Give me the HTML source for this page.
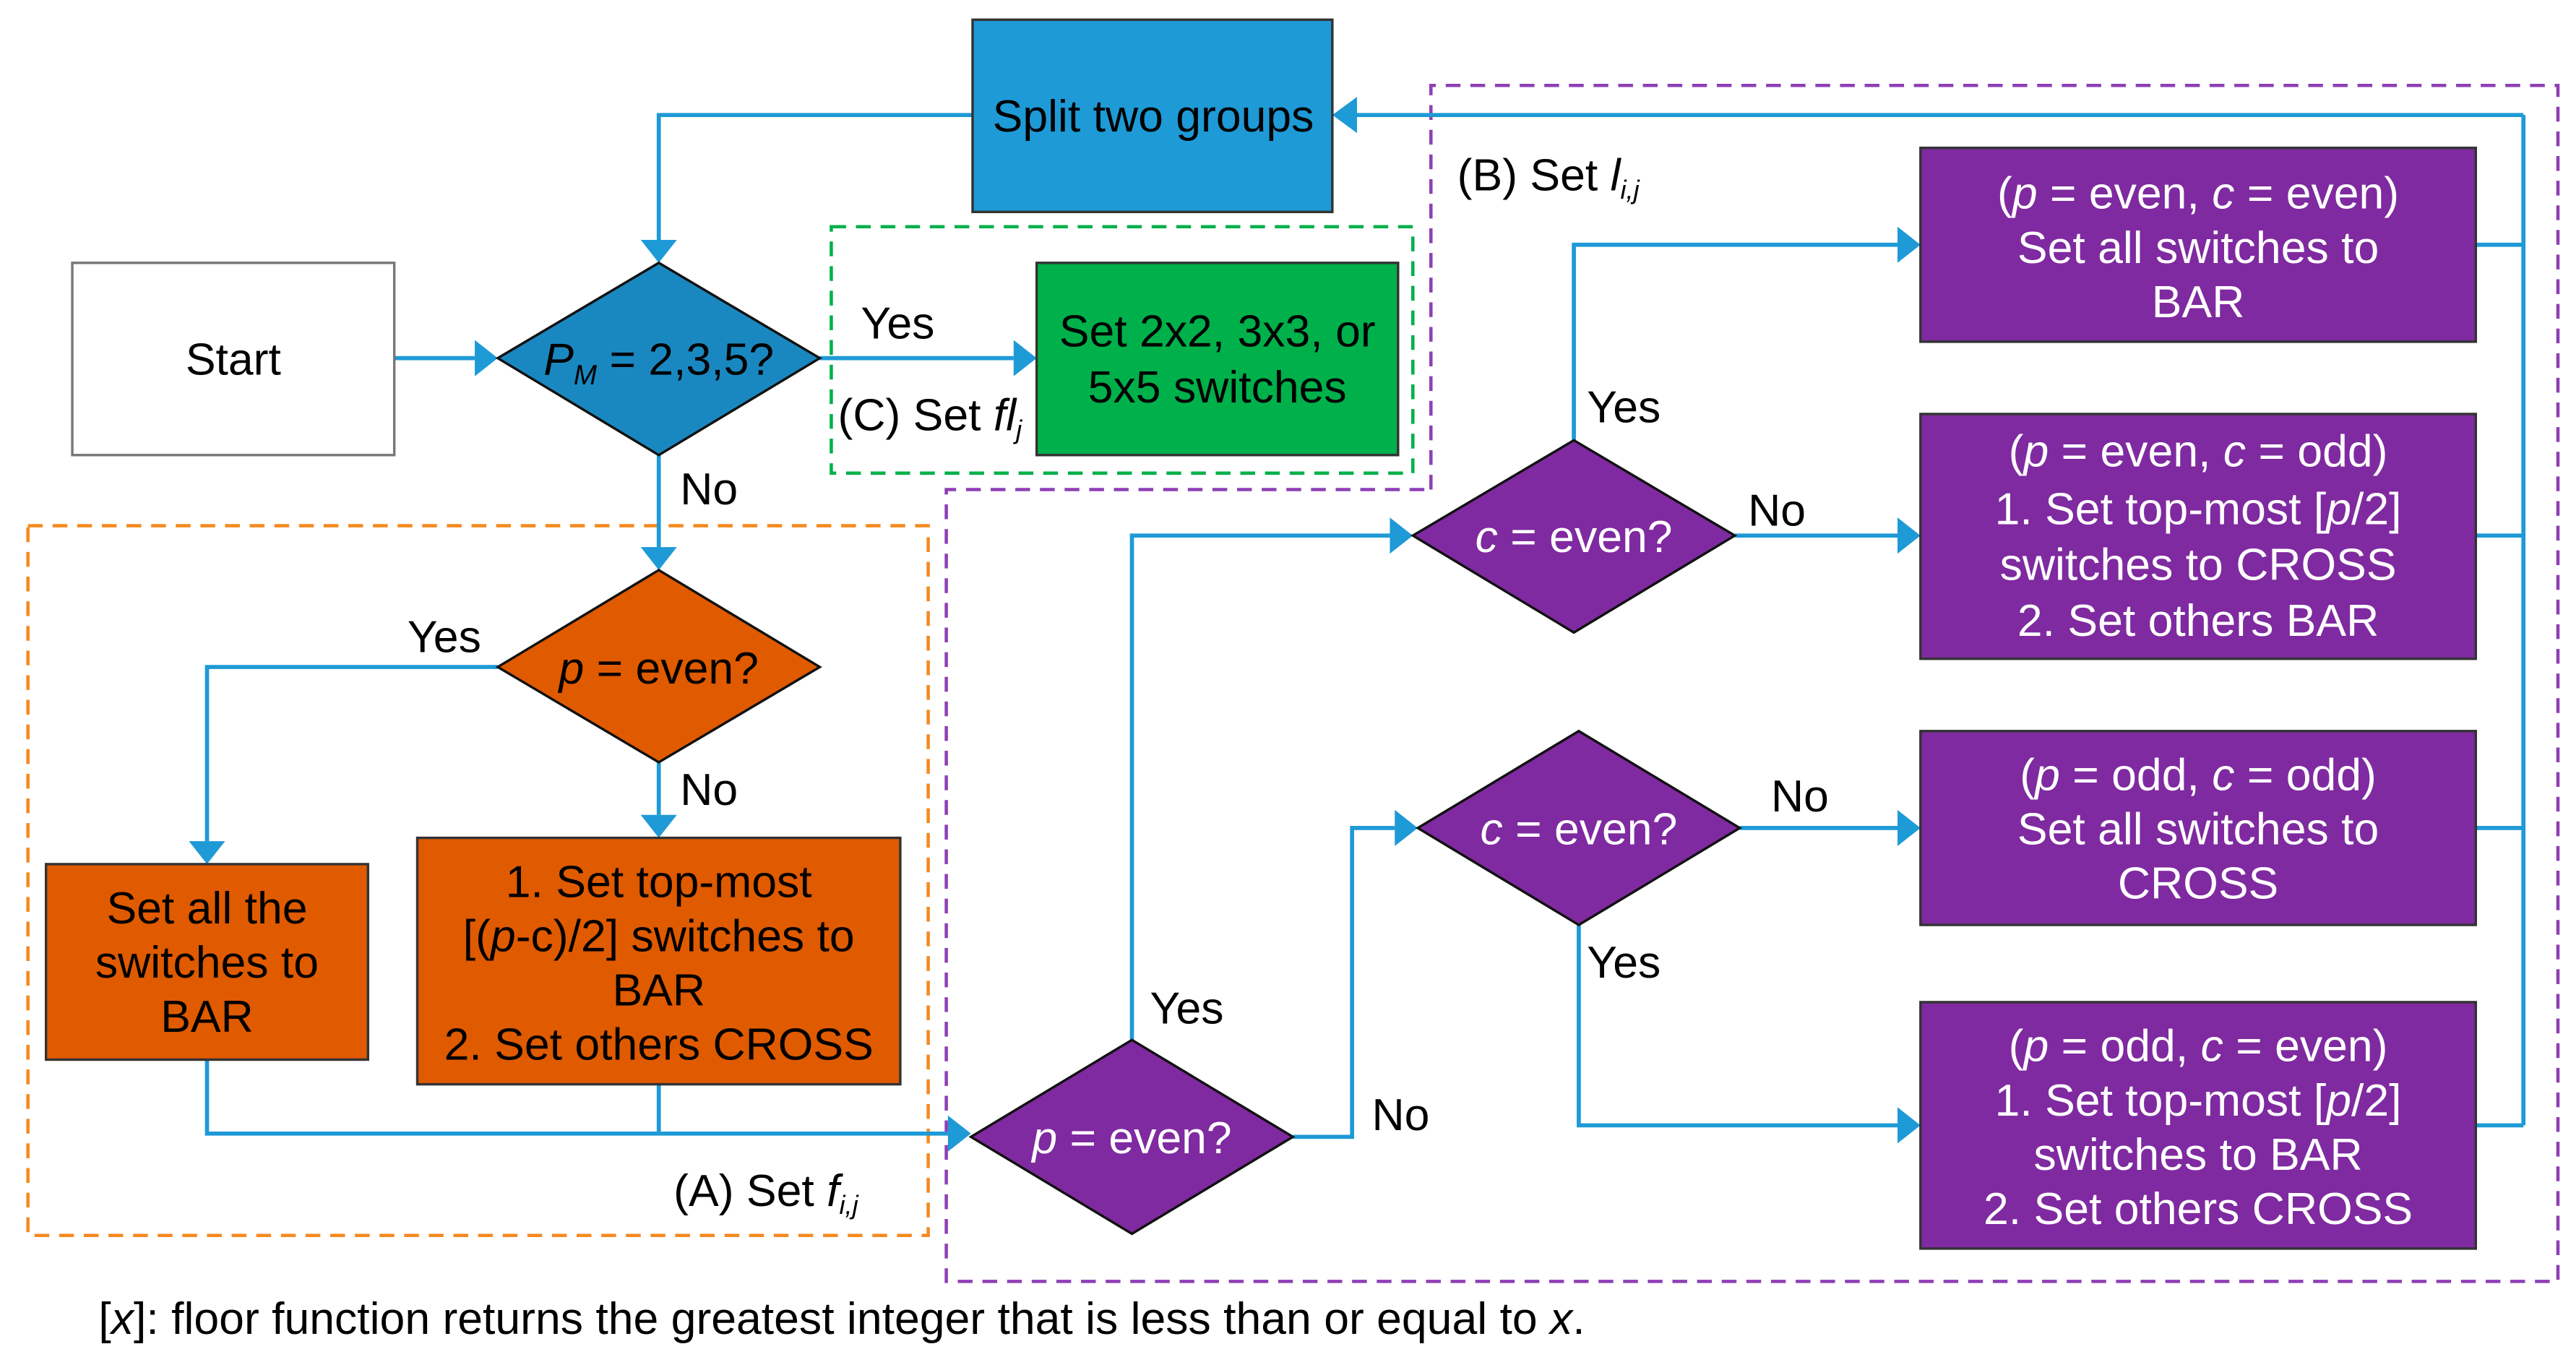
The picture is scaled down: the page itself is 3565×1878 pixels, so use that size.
<!DOCTYPE html>
<html><head><meta charset="utf-8"><style>html,body{margin:0;padding:0;background:#fff}svg{display:block}text{font-family:"Liberation Sans",sans-serif;font-size:27.5px}</style></head>
<body>
<svg width="3565" height="1878" viewBox="0 0 1568 826" xmlns="http://www.w3.org/2000/svg">
<g fill="none" stroke-width="2" stroke-dasharray="9,6">
<rect x="506" y="138" width="354" height="150" stroke="#00b04a"/>
<rect x="17" y="320" width="548" height="432" stroke="#f5891f"/>
<path d="M871,298 L871,52 L1557,52 L1557,780 L576,780 L576,298 Z" stroke="#8e3fb5"/>
</g>
<g fill="none" stroke="#1e9ad6" stroke-width="2.5">
<path d="M592,70 L401,70 L401,146"/>
<path d="M1536,70 L826,70"/>
<path d="M1536,70 L1536,685"/>
<path d="M1507,149 L1536,149 M1507,326 L1536,326 M1507,504 L1536,504 M1507,685 L1536,685"/>
<path d="M240,218 L289,218"/>
<path d="M499,218 L617,218"/>
<path d="M401,277 L401,333"/>
<path d="M303,406 L126,406 L126,512"/>
<path d="M401,464 L401,496"/>
<path d="M126,645 L126,690 L577,690 M401,660 L401,690"/>
<path d="M689,633 L689,326 L846,326"/>
<path d="M787,692 L823,692 L823,504 L849,504"/>
<path d="M958,268 L958,149 L1155,149"/>
<path d="M1056,326 L1155,326"/>
<path d="M1059,504 L1155,504"/>
<path d="M961,563 L961,685 L1155,685"/>
</g>
<g fill="#1e9ad6">
<path d="M390,146 L412,146 L401,160 Z"/>
<path d="M826,59 L826,81 L811,70 Z"/>
<path d="M289,207 L289,229 L303,218 Z"/>
<path d="M617,207 L617,229 L631,218 Z"/>
<path d="M390,333 L412,333 L401,347 Z"/>
<path d="M115,512 L137,512 L126,526 Z"/>
<path d="M390,496 L412,496 L401,510 Z"/>
<path d="M577,679 L577,701 L591,690 Z"/>
<path d="M846,315 L846,337 L860,326 Z"/>
<path d="M849,493 L849,515 L863,504 Z"/>
<path d="M1155,138 L1155,160 L1169,149 Z"/>
<path d="M1155,315 L1155,337 L1169,326 Z"/>
<path d="M1155,493 L1155,515 L1169,504 Z"/>
<path d="M1155,674 L1155,696 L1169,685 Z"/>
</g>
<g stroke="#333" stroke-width="1.5">
<rect x="592" y="12" width="219" height="117" fill="#1e9ad6"/>
<rect x="44" y="160" width="196" height="117" fill="#fff" stroke="#777"/>
<path d="M303,218 L401,160 L499,218 L401,277 Z" fill="#1a88c0" stroke="#111"/>
<rect x="631" y="160" width="220" height="117" fill="#00b04a"/>
<path d="M303,406 L401,347 L499,406 L401,464 Z" fill="#e05a00" stroke="#111"/>
<rect x="28" y="526" width="196" height="119" fill="#e05a00"/>
<rect x="254" y="510" width="294" height="150" fill="#e05a00"/>
<path d="M860,326 L958,268 L1056,326 L958,385 Z" fill="#7f2aa0" stroke="#111"/>
<path d="M863,504 L961,445 L1059,504 L961,563 Z" fill="#7f2aa0" stroke="#111"/>
<path d="M591,692 L689,633 L787,692 L689,751 Z" fill="#7f2aa0" stroke="#111"/>
<rect x="1169" y="90" width="338" height="118" fill="#7f2aa0"/>
<rect x="1169" y="252" width="338" height="149" fill="#7f2aa0"/>
<rect x="1169" y="445" width="338" height="118" fill="#7f2aa0"/>
<rect x="1169" y="610" width="338" height="150" fill="#7f2aa0"/>
</g>
<g text-anchor="middle" fill="#000">
<text x="702" y="80">Split two groups</text>
<text x="142" y="228">Start</text>
<text x="401" y="228"><tspan font-style="italic">P</tspan><tspan font-style="italic" font-size="17" dy="6">M</tspan><tspan dy="-6"> = 2,3,5?</tspan></text>
<text x="741" y="211">Set 2x2, 3x3, or</text>
<text x="741" y="245">5x5 switches</text>
<text x="401" y="416"><tspan font-style="italic">p</tspan> = even?</text>
<text x="126" y="562">Set all the</text>
<text x="126" y="595">switches to</text>
<text x="126" y="628">BAR</text>
<text x="401" y="546">1. Set top-most</text>
<text x="401" y="579">[(<tspan font-style="italic">p</tspan>-c)/2] switches to</text>
<text x="401" y="612">BAR</text>
<text x="401" y="645">2. Set others CROSS</text>
</g>
<g text-anchor="middle" fill="#fff">
<text x="958" y="336"><tspan font-style="italic">c</tspan> = even?</text>
<text x="961" y="514"><tspan font-style="italic">c</tspan> = even?</text>
<text x="689" y="702"><tspan font-style="italic">p</tspan> = even?</text>
<text x="1338" y="127">(<tspan font-style="italic">p</tspan> = even, <tspan font-style="italic">c</tspan> = even)</text>
<text x="1338" y="160">Set all switches to</text>
<text x="1338" y="193">BAR</text>
<text x="1338" y="284">(<tspan font-style="italic">p</tspan> = even, <tspan font-style="italic">c</tspan> = odd)</text>
<text x="1338" y="319">1. Set top-most [<tspan font-style="italic">p</tspan>/2]</text>
<text x="1338" y="353">switches to CROSS</text>
<text x="1338" y="387">2. Set others BAR</text>
<text x="1338" y="481">(<tspan font-style="italic">p</tspan> = odd, <tspan font-style="italic">c</tspan> = odd)</text>
<text x="1338" y="514">Set all switches to</text>
<text x="1338" y="547">CROSS</text>
<text x="1338" y="646">(<tspan font-style="italic">p</tspan> = odd, <tspan font-style="italic">c</tspan> = even)</text>
<text x="1338" y="679">1. Set top-most [<tspan font-style="italic">p</tspan>/2]</text>
<text x="1338" y="712">switches to BAR</text>
<text x="1338" y="745">2. Set others CROSS</text>
</g>
<g fill="#000">
<text x="524" y="206">Yes</text>
<text x="414" y="307">No</text>
<text x="248" y="397">Yes</text>
<text x="414" y="490">No</text>
<text x="700" y="623">Yes</text>
<text x="835" y="688">No</text>
<text x="966" y="257">Yes</text>
<text x="1064" y="320">No</text>
<text x="1078" y="494">No</text>
<text x="966" y="595">Yes</text>
<text x="510" y="262">(C) Set <tspan font-style="italic">fl</tspan><tspan font-style="italic" font-size="16" dy="5">j</tspan></text>
<text x="887" y="116">(B) Set <tspan font-style="italic">l</tspan><tspan font-style="italic" font-size="16" dy="5">i,j</tspan></text>
<text x="410" y="734">(A) Set <tspan font-style="italic">f</tspan><tspan font-style="italic" font-size="16" dy="5">i,j</tspan></text>
<text x="60" y="812">[<tspan font-style="italic">x</tspan>]: floor function returns the greatest integer that is less than or equal to <tspan font-style="italic">x</tspan>.</text>
</g>
</svg>
</body></html>
